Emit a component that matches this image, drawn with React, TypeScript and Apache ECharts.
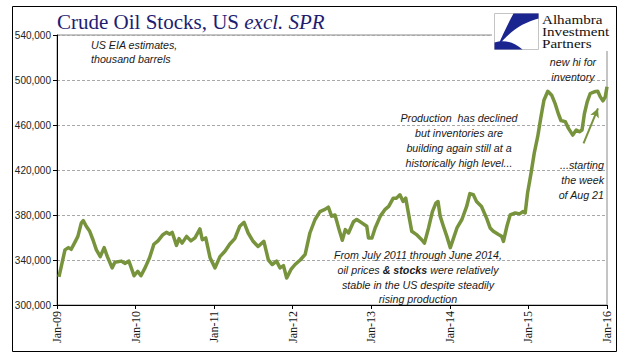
import { useEffect, useRef } from 'react';
import * as echarts from 'echarts';

const dates = [
  '2009-01-10','2009-02-07','2009-02-23','2009-03-08','2009-03-23','2009-04-08','2009-04-24','2009-05-03','2009-05-17','2009-06-02',
  '2009-06-17','2009-07-03','2009-07-21','2009-08-08','2009-08-23','2009-09-14','2009-09-27','2009-10-27','2009-11-12','2009-12-01',
  '2009-12-25','2010-01-11','2010-01-26','2010-02-14','2010-03-07','2010-03-27','2010-04-15','2010-05-08','2010-05-24','2010-06-09',
  '2010-06-20','2010-07-10','2010-07-22','2010-08-05','2010-08-26','2010-09-15','2010-10-04','2010-10-27','2010-11-07','2010-11-23',
  '2010-12-13','2011-01-05','2011-01-28','2011-02-21','2011-03-14','2011-04-07','2011-04-30','2011-05-20','2011-06-08','2011-07-01',
  '2011-07-24','2011-08-20','2011-09-10','2011-09-28','2011-10-18','2011-11-03','2011-11-19','2011-12-04','2011-12-24','2012-01-12',
  '2012-02-05','2012-02-28','2012-03-21','2012-04-14','2012-05-07','2012-05-30','2012-06-15','2012-06-30','2012-07-16','2012-08-04',
  '2012-08-19','2012-09-02','2012-09-17','2012-10-10','2012-10-25','2012-11-18','2012-12-11','2012-12-19','2013-01-04','2013-01-19',
  '2013-02-12','2013-03-05','2013-03-23','2013-04-13','2013-04-28','2013-05-14','2013-05-29','2013-06-10','2013-06-25','2013-07-08',
  '2013-07-30','2013-08-23','2013-09-05','2013-09-24','2013-10-12','2013-10-28','2013-11-07','2013-11-17','2013-12-02','2013-12-18',
  '2014-01-03','2014-01-13','2014-02-03','2014-02-26','2014-03-20','2014-04-04','2014-04-20','2014-05-05','2014-05-28','2014-06-21',
  '2014-07-07','2014-07-22','2014-08-15','2014-08-30','2014-09-07','2014-09-23','2014-10-08','2014-11-01','2014-11-21','2014-12-06',
  '2014-12-17','2014-12-28','2015-01-13','2015-01-28','2015-02-13','2015-02-28','2015-03-14','2015-04-01','2015-04-19','2015-05-05',
  '2015-05-20','2015-06-01','2015-06-21','2015-07-06','2015-07-26','2015-08-11','2015-08-26','2015-09-07','2015-09-18','2015-10-01',
  '2015-10-15','2015-11-03','2015-11-19','2015-12-01','2015-12-13','2015-12-24','2016-01-01',
];

const stocks = [
  325000,349000,351000,349500,355000,361000,373000,375000,370000,365500,
  358000,349000,343000,351000,343000,333000,338000,339000,337000,339000,
  326000,330000,326000,333000,342000,354000,357000,362500,364600,363000,
  364600,353000,359000,355000,361000,357000,359600,367600,358000,359600,
  342000,333000,343000,348000,354000,359000,370000,373500,364000,356600,
  352000,356600,340000,336000,339000,333000,335000,324000,331600,336000,
  340000,345000,364000,376000,383000,385000,387000,379000,380000,367000,
  357500,367000,364000,374000,376000,373000,370000,359600,359600,368500,
  379000,384700,387600,395000,395000,398000,392000,395000,379000,365500,
  362600,358000,355000,368500,383000,390600,392000,379000,370000,361000,
  351000,356600,368500,376000,387600,399000,398000,392000,387600,377000,
  368500,365500,362600,361000,356600,370000,380000,381800,381000,383000,
  381800,399500,417000,435000,449600,467000,482000,490000,486500,479000,
  470000,464000,463000,457000,451000,455500,454000,455500,470000,480500,
  488000,489500,490000,485000,481500,485000,494000,
];

const xTickLabels = ['Jan-09', 'Jan-10', 'Jan-11', 'Jan-12', 'Jan-13', 'Jan-14', 'Jan-15', 'Jan-16'];
const firstYear = 2009;
const lastYear = 2016;
const yMin = 300000;
const yMax = 540000;
const yStep = 40000;

const logoLines = ['Alhambra', 'Investment', 'Partners'];

const arrowFrom = { date: '2015-09-14', value: 443700 };
const arrowTo = { date: '2015-11-20', value: 474700 };

function toYear(s: string): number {
  const [y, m, d] = s.split('-').map(Number);
  const start = Date.UTC(y, 0, 1);
  const end = Date.UTC(y + 1, 0, 1);
  return y + (Date.UTC(y, m - 1, d) - start) / (end - start);
}

let registered = false;
function registerLogo() {
  if (registered) return;
  registered = true;
  echarts.graphic.registerShape(
    'logoTop',
    echarts.graphic.extendPath('M19 0 L44 0 L44 5 C28 9 14 19 3 33 C8 22 13 11 19 0 Z', {})
  );
  echarts.graphic.registerShape(
    'logoBottom',
    echarts.graphic.extendPath('M0 36 L0 29 C9 26 19 28 28 36 Z', {})
  );
}

const annoFont = '"Liberation Sans", Arial, sans-serif';
const annoSize = 10.7;
const annoColor = '#1a1a1a';

function annoText(x: number, y: number, text: string, align: string, rich?: any) {
  return {
    type: 'text',
    x,
    y,
    silent: true,
    z: 20,
    style: {
      text,
      fontFamily: annoFont,
      fontSize: annoSize,
      fontStyle: 'italic',
      fill: annoColor,
      align,
      verticalAlign: 'middle',
      rich,
    },
  };
}

export default function App() {
  const ref = useRef<HTMLDivElement>(null);

  useEffect(() => {
    if (!ref.current) return;
    registerLogo();
    const chart = echarts.init(ref.current, null, { renderer: 'svg' });
    const data = dates.map((d, i) => [toYear(d), stocks[i]]);

    const boldRich = {
      b: {
        fontFamily: annoFont,
        fontSize: annoSize,
        fontStyle: 'italic',
        fontWeight: 'bold',
        fill: annoColor,
      },
    };

    chart.setOption({
      animation: false,
      backgroundColor: '#ffffff',
      grid: {
        left: 57,
        right: 34,
        top: 35,
        bottom: 56,
        show: true,
        borderColor: '#8a8a8a',
        borderWidth: 1,
        backgroundColor: 'transparent',
      },
      xAxis: {
        type: 'value',
        min: firstYear,
        max: lastYear,
        interval: 1,
        axisLine: { show: true, lineStyle: { color: '#000', width: 1 } },
        axisTick: { show: true, inside: false, length: 4, lineStyle: { color: '#000' } },
        splitLine: { show: false },
        axisLabel: {
          rotate: 90,
          margin: 6,
          fontFamily: '"Liberation Serif", "Times New Roman", serif',
          fontSize: 12,
          color: '#111',
          formatter: (v: number) => xTickLabels[Math.round(v - firstYear)] ?? '',
        },
      },
      yAxis: {
        type: 'value',
        min: yMin,
        max: yMax,
        interval: yStep,
        axisLine: { show: true, lineStyle: { color: '#000', width: 1 } },
        axisTick: { show: true, inside: false, length: 4, lineStyle: { color: '#000' } },
        splitLine: { show: true, lineStyle: { color: '#a8a8a8', type: [3, 2], width: 1 } },
        axisLabel: {
          margin: 6,
          fontFamily: '"Liberation Sans", Arial, sans-serif',
          fontSize: 10,
          color: '#222',
          formatter: (v: number) => v.toLocaleString('en-US'),
        },
      },
      series: [
        {
          type: 'line',
          data,
          showSymbol: false,
          symbol: 'none',
          lineStyle: { color: '#77933C', width: 3.5, join: 'round' },
          z: 5,
          markLine: {
            silent: true,
            symbol: ['none', 'arrow'],
            symbolSize: [7, 9],
            label: { show: false },
            lineStyle: { color: '#77933C', width: 2, type: 'solid' },
            data: [
              [
                { coord: [toYear(arrowFrom.date), arrowFrom.value] },
                { coord: [toYear(arrowTo.date), arrowTo.value] },
              ],
            ],
          },
        },
      ],
      graphic: [
        {
          type: 'rect',
          silent: true,
          z: 1,
          shape: { x: 12.5, y: 6.5, width: 604, height: 345 },
          style: { fill: 'none', stroke: '#000', lineWidth: 1 },
        },
        {
          type: 'rect',
          silent: true,
          z: 10,
          shape: { x: 492, y: 9, width: 122, height: 42 },
          style: { fill: '#fff' },
        },
        {
          type: 'rect',
          silent: true,
          z: 11,
          shape: { x: 494.5, y: 13.5, width: 44, height: 36 },
          style: { fill: '#fff', stroke: '#c4c4c4', lineWidth: 1 },
        },
        { type: 'logoTop', silent: true, z: 12, x: 494.5, y: 13.5, style: { fill: '#1b2590' } },
        { type: 'logoBottom', silent: true, z: 12, x: 494.5, y: 13.5, style: { fill: '#1b2590' } },
        ...logoLines.map((t, i) => ({
          type: 'text',
          silent: true,
          z: 12,
          x: 542,
          y: 13 + i * 12,
          scaleX: 1.12,
          style: {
            text: t,
            fontFamily: '"Liberation Serif", "Times New Roman", serif',
            fontSize: 13.5,
            lineHeight: 12,
            fill: '#111',
            align: 'left',
            verticalAlign: 'top',
          },
        })),
        {
          type: 'text',
          silent: true,
          z: 12,
          x: 57,
          y: 22,
          style: {
            text: 'Crude Oil Stocks, US {i|excl. SPR}',
            fontFamily: '"Liberation Serif", "Times New Roman", serif',
            fontSize: 21,
            fill: '#1d1d72',
            align: 'left',
            verticalAlign: 'middle',
            rich: {
              i: {
                fontFamily: '"Liberation Serif", "Times New Roman", serif',
                fontSize: 21,
                fontStyle: 'italic',
                fill: '#1d1d72',
              },
            },
          },
        },
        annoText(91, 45, 'US EIA estimates,', 'left'),
        annoText(91, 59, 'thousand barrels', 'left'),
        annoText(573, 62, 'new hi for', 'center'),
        annoText(573, 77, 'inventory', 'center'),
        annoText(459, 118, 'Production  has declined', 'center'),
        annoText(459, 133, 'but inventories are', 'center'),
        annoText(459, 148, 'building again still at a', 'center'),
        annoText(459, 163, 'historically high level...', 'center'),
        annoText(604, 165, '...starting', 'right'),
        annoText(604, 180, 'the week', 'right'),
        annoText(604, 195, 'of Aug 21', 'right'),
        annoText(418, 255, 'From July 2011 through June 2014,', 'center'),
        annoText(418, 270, 'oil prices {b|& stocks} were relatively', 'center', boldRich),
        annoText(418, 285, 'stable in the US despite steadily', 'center'),
        annoText(418, 299, 'rising production', 'center'),
      ],
    });

    return () => chart.dispose();
  }, []);

  return (
    <div
      ref={ref}
      style={{ position: 'fixed', left: 0, top: 0, width: 641, height: 361, background: '#fff' }}
    />
  );
}
